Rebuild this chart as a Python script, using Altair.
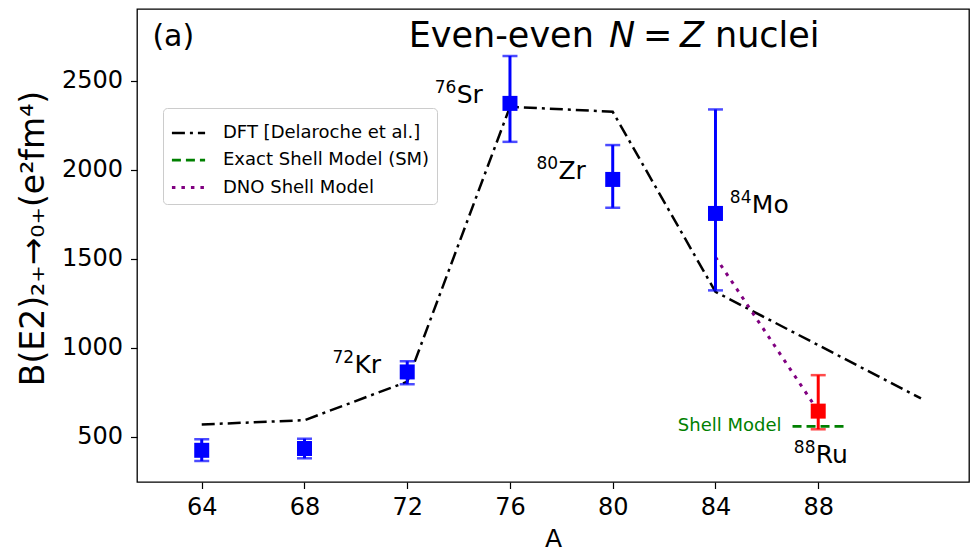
import altair as alt
import pandas as pd

FONT = "DejaVu Sans"

# ---------------- data ----------------
# experimental B(E2) values (blue)
exp_A = [64, 68, 72, 76, 80, 84]
exp_B = [425, 435, 865, 2373, 1946, 1755]
exp_lo = [365, 380, 796, 2157, 1787, 1323]
exp_hi = [487, 490, 925, 2639, 2139, 2339]

# 88Ru (red)
ru_A = [88]
ru_B = [645]
ru_lo = [543]
ru_hi = [847]

# theory curves
dft_A = [64, 68, 72, 76, 80, 84, 92]
dft_B = [570, 594, 810, 2354, 2326, 1315, 716]
sm_A = [87, 89]
sm_B = [560, 560]
dno_A = [84, 88]
dno_B = [1510, 645]

series = ["DFT [Delaroche et al.]", "Exact Shell Model (SM)", "DNO Shell Model"]

# isotope labels
iso_mass = ["76", "80", "84", "72", "88"]
iso_elem = ["Sr", "Zr", "Mo", "Kr", "Ru"]
iso_A = [73.07, 77.03, 84.56, 69.09, 87.05]
iso_B = [2373, 1946, 1755, 860, 354]

sm_label = ["Shell Model"]
sm_label_A = [86.57]
sm_label_B = [560]

x_ticks = [64, 68, 72, 76, 80, 84, 88]
y_ticks = [500, 1000, 1500, 2000, 2500]

title_words = ["Even-even", "N", "=", "Z", "nuclei"]
panel_tag = ["(a)"]

# ---------------- tables ----------------
lines = pd.DataFrame({
    "A": dft_A + sm_A + dno_A,
    "B": dft_B + sm_B + dno_B,
    "series": [series[0]] * len(dft_A) + [series[1]] * len(sm_A) + [series[2]] * len(dno_A),
})
exp_df = pd.DataFrame({"A": exp_A, "B": exp_B, "lo": exp_lo, "hi": exp_hi})
ru_df = pd.DataFrame({"A": ru_A, "B": ru_B, "lo": ru_lo, "hi": ru_hi})
iso_df = pd.DataFrame({"A": iso_A, "B": iso_B, "mass": iso_mass, "elem": iso_elem})
sml_df = pd.DataFrame({"A": sm_label_A, "B": sm_label_B, "t": sm_label})

xscale = alt.Scale(domain=[61.48, 93.87], nice=False, zero=False)
yscale = alt.Scale(domain=[247, 2903], nice=False, zero=False)

xaxis = alt.Axis(values=x_ticks, title="A", grid=False, domain=False, format="d",
                 labelFontSize=24, labelFont=FONT, labelColor="black",
                 tickSize=6.5, tickWidth=1.2, tickColor="black", labelPadding=7,
                 titleFontSize=25, titleFont=FONT, titleFontWeight="normal", titleColor="black",
                 titleBaseline="alphabetic", titleY=64)
yaxis = alt.Axis(values=y_ticks, title="B(E2)₂₊→₀₊(e²fm⁴)", grid=False, domain=False, format="d",
                 labelFontSize=24, labelFont=FONT, labelColor="black",
                 tickSize=6.5, tickWidth=1.2, tickColor="black", labelPadding=8,
                 titleFontSize=33, titleFont=FONT, titleFontWeight="normal", titleColor="black",
                 titleAngle=270, titleBaseline="alphabetic", titleAlign="center",
                 titleX=-94, titleY=229)

def X(field="A"):
    return alt.X(f"{field}:Q", scale=xscale, axis=xaxis)

def Y(field="B"):
    return alt.Y(f"{field}:Q", scale=yscale, axis=yaxis)

legend = alt.Legend(title=None, orient="none", legendX=26, legendY=99,
                    symbolType="stroke", symbolSize=1100, symbolStrokeWidth=2.5,
                    labelFontSize=18, labelFont=FONT, labelColor="black", labelOffset=16,
                    labelLimit=0, rowPadding=-2, padding=7, strokeColor="#cccccc",
                    fillColor="rgba(255,255,255,0.8)", cornerRadius=4)

line_layer = alt.Chart(lines).mark_line().encode(
    x=X(), y=Y(),
    color=alt.Color("series:N", scale=alt.Scale(domain=series, range=["#000000", "#008000", "#800080"]), legend=legend),
    strokeDash=alt.StrokeDash("series:N", scale=alt.Scale(domain=series, range=[[13, 5, 3, 5], [9, 5], [3.5, 6]]), legend=legend),
    strokeWidth=alt.StrokeWidth("series:N", scale=alt.Scale(domain=series, range=[2.5, 3, 3.5]), legend=None),
)

def points(df, color):
    bar = alt.Chart(df).mark_rule(color=color, strokeWidth=3).encode(x=X(), y=Y("lo"), y2="hi:Q")
    cap_lo = alt.Chart(df).mark_tick(color=color, orient="horizontal", size=15, thickness=2.5).encode(x=X(), y=Y("lo"))
    cap_hi = alt.Chart(df).mark_tick(color=color, orient="horizontal", size=15, thickness=2.5).encode(x=X(), y=Y("hi"))
    sq = alt.Chart(df).mark_point(shape="square", filled=True, size=225, opacity=1, color=color).encode(x=X(), y=Y())
    return [bar, cap_lo, cap_hi, sq]

mass_text = alt.Chart(iso_df).mark_text(align="left", baseline="alphabetic", fontSize=17, dy=-10,
                                        font=FONT, color="black").encode(x=X(), y=Y(), text="mass:N")
elem_text = alt.Chart(iso_df).mark_text(align="left", baseline="alphabetic", fontSize=25, dx=22,
                                        font=FONT, color="black").encode(x=X(), y=Y(), text="elem:N")
sml_text = alt.Chart(sml_df).mark_text(align="right", baseline="middle", fontSize=18,
                                       font=FONT, color="#008000").encode(x=X(), y=Y(), text="t:N")

# title pieces (pixel placement inside the frame)
title_x = [271.7, 472.0, 506.0, 543.0, 578.0]
title_style = ["normal", "italic", "normal", "italic", "normal"]
title_layers = []
for w, px, st in zip(title_words, title_x, title_style):
    title_layers.append(
        alt.Chart(pd.DataFrame({"t": [w]})).mark_text(
            align="left", baseline="alphabetic", fontSize=35, font=FONT, fontStyle=st, color="black"
        ).encode(x=alt.value(px), y=alt.value(38), text="t:N")
    )
tag_layer = alt.Chart(pd.DataFrame({"t": panel_tag})).mark_text(
    align="left", baseline="alphabetic", fontSize=30, font=FONT, color="black"
).encode(x=alt.value(15.4), y=alt.value(37), text="t:N")

chart = alt.layer(
    line_layer,
    *points(exp_df, "#0000ff"),
    *points(ru_df, "#ff0000"),
    mass_text, elem_text, sml_text,
    *title_layers, tag_layer,
).properties(
    width=832, height=473,
    padding={"left": 129, "top": 1, "right": 1, "bottom": 70},
    autosize=alt.AutoSizeParams(type="none"),
    background="white",
).configure_view(stroke="black", strokeWidth=1.3)

chart.save("out.html", embed_options={"renderer": "svg", "actions": False})
